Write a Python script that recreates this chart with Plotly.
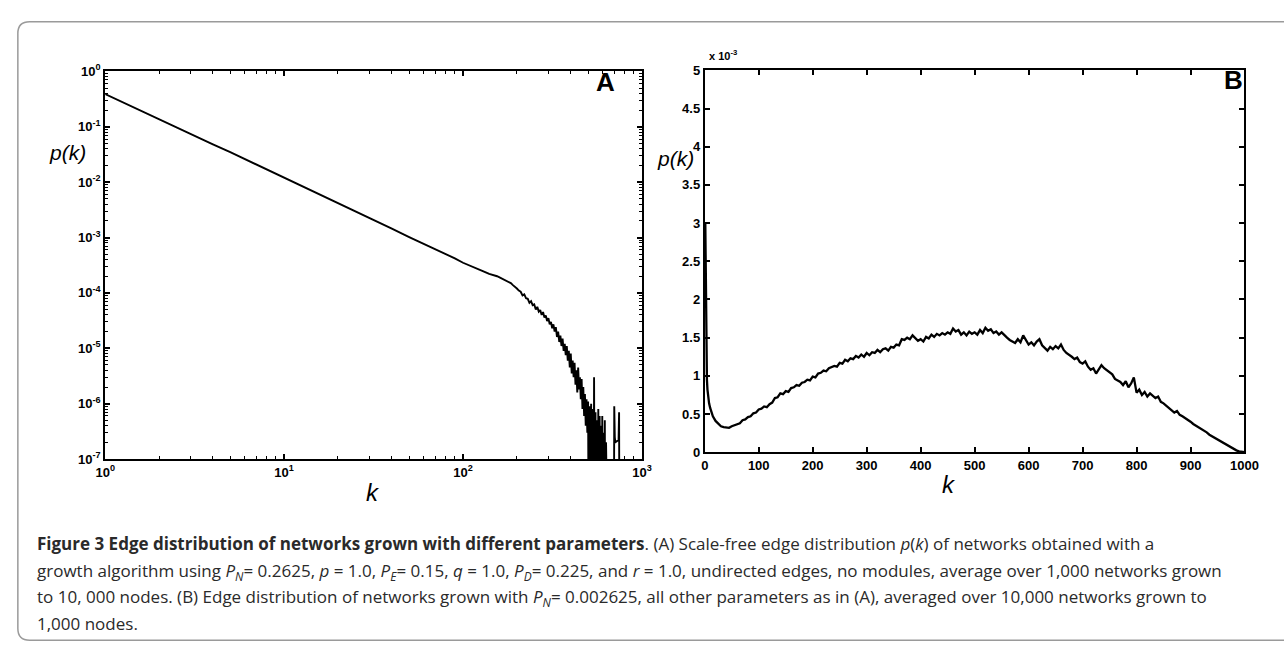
import plotly.graph_objects as go

W, H = 1284, 658

# ---------------- Panel A data (log-log) ----------------
k_A = [1, 2, 3, 4, 5, 6, 7, 8, 9, 10, 12, 15, 20, 25, 30, 40, 50, 60, 70, 80, 90, 100,
       110, 120, 130, 140, 145, 150, 155, 160, 165, 170, 175, 180, 185, 190, 195, 200,
       205, 210, 215, 220, 225, 230, 235, 240, 245, 250, 255, 260, 265, 270, 275, 280,
       285, 290, 295, 300, 305, 310, 315, 320, 325, 330, 335, 340, 345, 350, 355, 360,
       365, 370, 375, 380, 385, 390, 395, 400, 405, 410, 415, 420, 425, 430, 435, 440,
       445, 450, 455, 460, 465, 470, 475, 480, 485, 490, 495, 500, 505, 510, 515, 520,
       525, 530, 535, 540, 545, 550, 555, 560, 565, 570, 575, 580, 585, 590, 595, 600,
       605, 610, 615, 620, 625, 630, 640, 650, 695, 700, 705, 710, 740, 745, 750]
p_A = [0.39, 0.135, 0.074, 0.048, 0.0347, 0.0263, 0.0209, 0.0170, 0.0143, 0.0122,
       0.0093, 0.0066, 0.0043, 0.0030, 0.0023, 0.00145, 0.00102, 0.00078, 0.00062,
       0.00050, 0.00042, 0.00035,
       3.1e-4, 2.75e-4, 2.45e-4, 2.2e-4, 2.15e-4, 2.05e-4, 2.0e-4, 1.9e-4, 1.8e-4,
       1.75e-4, 1.62e-4, 1.55e-4, 1.5e-4, 1.38e-4, 1.3e-4, 1.2e-4,
       1.1e-4, 1.05e-4, 9.0e-5, 9.4e-5, 8.0e-5, 7.8e-5, 6.6e-5, 7.1e-5, 6.0e-5, 6.2e-5,
       5.0e-5, 5.6e-5, 4.6e-5, 4.9e-5, 4.0e-5, 4.5e-5, 3.6e-5, 3.9e-5, 3.1e-5, 3.5e-5,
       2.7e-5, 3.0e-5, 2.3e-5, 2.7e-5, 2.0e-5, 2.4e-5, 1.6e-5, 2.0e-5, 1.3e-5, 1.7e-5,
       1.1e-5, 1.5e-5, 9e-6, 1.2e-5, 7.5e-6, 1.1e-5, 6e-6, 9e-6, 4.5e-6, 8e-6, 3.5e-6,
       6e-6, 3e-6, 5.5e-6, 2.2e-6, 4e-6, 1.6e-6, 4.5e-6, 1.8e-6, 3e-6, 1.2e-6, 2.8e-6,
       8e-7, 2e-6, 6e-7, 1.5e-6, 4e-7, 1.2e-6, 3e-7, 1.1e-6, 1e-10, 9e-7, 2e-7, 1e-6,
       1e-10, 8e-7, 1e-10, 3e-6, 1e-10, 7e-7, 1e-10, 5e-7, 1e-10, 8e-7, 1e-10, 6e-7,
       1e-10, 4e-7, 1e-10, 6e-7, 1e-10, 3e-7, 1e-10, 5e-7, 1e-10, 2e-7, 1e-10, 1e-10,
       1e-10, 9e-7, 2.5e-7, 2e-7, 2.2e-7, 7e-7, 1e-10]
A_ytickvals = [1, 1e-1, 1e-2, 1e-3, 1e-4, 1e-5, 1e-6, 1e-7]
A_yticktext = ["10<sup>0</sup>", "10<sup>-1</sup>", "10<sup>-2</sup>", "10<sup>-3</sup>",
               "10<sup>-4</sup>", "10<sup>-5</sup>", "10<sup>-6</sup>", "10<sup>-7</sup>"]
A_xtickvals = [1, 10, 100, 1000]
A_xticktext = ["10<sup>0</sup>", "10<sup>1</sup>", "10<sup>2</sup>", "10<sup>3</sup>"]
A_xminor = [2, 3, 4, 5, 6, 7, 8, 9, 20, 30, 40, 50, 60, 70, 80, 90,
            200, 300, 400, 500, 600, 700, 800, 900]
A_yminor = [m * 10.0 ** e for e in range(-7, 0) for m in (2, 3, 4, 5, 6, 7, 8, 9)]

# ---------------- Panel B data (values in units of 1e-3) ----------------
k_B = [1, 2, 3, 4, 5, 6, 8] + list(range(10, 1001, 5))
p_B = [3.0, 1.9, 1.1, 0.95, 0.82, 0.74, 0.64,
       0.58, 0.47, 0.41, 0.37, 0.34, 0.33, 0.32, 0.32, 0.34, 0.35, 0.37, 0.38, 0.42, 0.43,
       0.46, 0.47, 0.51, 0.52, 0.56, 0.57, 0.60, 0.59, 0.63, 0.65, 0.71, 0.72, 0.77, 0.76,
       0.80, 0.79, 0.84, 0.85, 0.88, 0.87, 0.91, 0.92, 0.95, 0.94, 0.99, 0.98, 1.03, 1.04,
       1.07, 1.06, 1.10, 1.12, 1.13, 1.12, 1.17, 1.16, 1.21, 1.19, 1.23, 1.22, 1.26, 1.24,
       1.28, 1.25, 1.30, 1.27, 1.31, 1.30, 1.34, 1.31, 1.35, 1.36, 1.33, 1.38, 1.37, 1.41,
       1.40, 1.48, 1.47, 1.50, 1.48, 1.53, 1.49, 1.46, 1.48, 1.45, 1.51, 1.49, 1.54, 1.51,
       1.55, 1.53, 1.56, 1.54, 1.57, 1.55, 1.62, 1.58, 1.60, 1.54, 1.57, 1.53, 1.58, 1.55,
       1.57, 1.54, 1.60, 1.56, 1.63, 1.59, 1.61, 1.56, 1.58, 1.54, 1.57, 1.53, 1.50, 1.47,
       1.45, 1.43, 1.48, 1.44, 1.53, 1.46, 1.41, 1.44, 1.40, 1.45, 1.48, 1.40, 1.37, 1.33,
       1.38, 1.35, 1.39, 1.36, 1.41, 1.34, 1.30, 1.28, 1.25, 1.22, 1.24, 1.18, 1.16, 1.19,
       1.12, 1.08, 1.10, 1.03, 1.09, 1.14, 1.10, 1.07, 1.05, 1.02, 0.96, 0.94, 0.92, 0.88,
       0.93, 0.85, 0.90, 0.98, 0.78, 0.82, 0.75, 0.79, 0.73, 0.77, 0.74, 0.71, 0.73, 0.66,
       0.64, 0.61, 0.58, 0.55, 0.52, 0.54, 0.49, 0.47, 0.45, 0.43, 0.40, 0.37, 0.35, 0.32,
       0.30, 0.28, 0.26, 0.23, 0.21, 0.19, 0.17, 0.14, 0.12, 0.10, 0.08, 0.06, 0.04, 0.025,
       0.012, 0.004, 0.0]
B_ytickvals = [0, 0.5, 1, 1.5, 2, 2.5, 3, 3.5, 4, 4.5, 5]
B_yticktext = ["0", "0.5", "1", "1.5", "2", "2.5", "3", "3.5", "4", "4.5", "5"]
B_xtickvals = [0, 100, 200, 300, 400, 500, 600, 700, 800, 900, 1000]

caption_lines = [
    "<b>Figure 3 Edge distribution of networks grown with different parameters</b>. (A) Scale-free edge distribution <i>p</i>(<i>k</i>) of networks obtained with a",
    "growth algorithm using <i>P<sub>N</sub></i>= 0.2625, <i>p</i> = 1.0, <i>P<sub>E</sub></i>= 0.15, <i>q</i> = 1.0, <i>P<sub>D</sub></i>= 0.225, and <i>r</i> = 1.0, undirected edges, no modules, average over 1,000 networks grown",
    "to 10, 000 nodes. (B) Edge distribution of networks grown with <i>P<sub>N</sub></i>= 0.002625, all other parameters as in (A), averaged over 10,000 networks grown to",
    "1,000 nodes.",
]


def px(x):
    return x / W


def py(y):
    return 1 - y / H


A_TOP, A_BOT = 64, 462
B_TOP, B_BOT = 63, 455
A_L, A_R = 97, 644
B_L, B_R = 708, 1258

fig = go.Figure()
fig.add_trace(go.Scatter(x=k_A, y=p_A, mode="lines", line=dict(color="black", width=1.9),
                         xaxis="x", yaxis="y", showlegend=False))
fig.add_trace(go.Scatter(x=k_B, y=p_B, mode="lines", line=dict(color="black", width=2.3),
                         xaxis="x2", yaxis="y2", showlegend=False))

tickfont = dict(family="Liberation Sans, Arial", size=13, color="black", weight="bold")
axis_common = dict(showline=True, linewidth=2, linecolor="black", mirror="ticks",
                   ticks="inside", ticklen=5, tickwidth=1.5, tickcolor="black",
                   showgrid=False, zeroline=False, tickfont=tickfont)
minor_common = dict(ticks="inside", ticklen=3, tickwidth=1, tickcolor="black",
                    showgrid=False, tickmode="array")

fig.update_layout(
    width=W, height=H, margin=dict(l=0, r=0, t=0, b=0),
    paper_bgcolor="white", plot_bgcolor="white",
    xaxis=dict(type="log", domain=[px(A_L), px(A_R)], range=[0, 3], anchor="y",
               tickvals=A_xtickvals, ticktext=A_xticktext,
               minor=dict(tickvals=A_xminor, **minor_common), **axis_common),
    yaxis=dict(type="log", domain=[py(A_BOT), py(A_TOP)], range=[-7, 0], anchor="x",
               tickvals=A_ytickvals, ticktext=A_yticktext,
               minor=dict(tickvals=A_yminor, **minor_common), **axis_common),
    xaxis2=dict(domain=[px(B_L), px(B_R)], range=[0, 1000], anchor="y2",
                tickvals=B_xtickvals, **axis_common),
    yaxis2=dict(domain=[py(B_BOT), py(B_TOP)], range=[0, 5], anchor="x2",
                tickvals=B_ytickvals, ticktext=B_yticktext, **axis_common),
)

ann = []
lab = dict(family="Liberation Sans, Arial", color="black")
ann.append(dict(x=px(607), y=py(75), text="<b>A</b>", font=dict(size=26, **lab)))
ann.append(dict(x=px(1247), y=py(73), text="<b>B</b>", font=dict(size=26, **lab)))
ann.append(dict(x=px(59), y=py(147), text="<i>p(k)</i>", font=dict(size=21, **lab)))
ann.append(dict(x=px(678), y=py(153), text="<i>p(k)</i>", font=dict(size=21, **lab)))
ann.append(dict(x=px(370), y=py(496), text="<i>k</i>", font=dict(size=24, **lab)))
ann.append(dict(x=px(957), y=py(488), text="<i>k</i>", font=dict(size=24, **lab)))
ann.append(dict(x=px(727), y=py(47), text="<b>x 10<sup>-3</sup></b>", font=dict(size=11, **lab)))
for a in ann:
    a.update(xref="paper", yref="paper", showarrow=False, xanchor="center", yanchor="middle")

cap_y = [549, 577, 604, 631]
for line, yy in zip(caption_lines, cap_y):
    ann.append(dict(x=px(25), y=py(yy), xref="paper", yref="paper", showarrow=False,
                    xanchor="left", yanchor="middle", text=line, align="left",
                    font=dict(family="Open Sans", size=17, color="#2a2a2a")))
fig.update_layout(annotations=ann)

# rounded border frame
x0, x1, y0, y1, r = px(8), px(1300), py(13), py(648), 12
rx, ry = r / W, r / H
path = (f"M {x1},{y0} L {x0+rx},{y0} Q {x0},{y0} {x0},{y0-ry} "
        f"L {x0},{y1+ry} Q {x0},{y1} {x0+rx},{y1} L {x1},{y1}")
fig.add_shape(type="path", path=path, xref="paper", yref="paper",
              line=dict(color="#9a9a9a", width=1.5))

fig.write_html("out.html", config={"displayModeBar": False},
               post_script="document.body.style.margin='0';document.body.style.overflow='hidden';")
